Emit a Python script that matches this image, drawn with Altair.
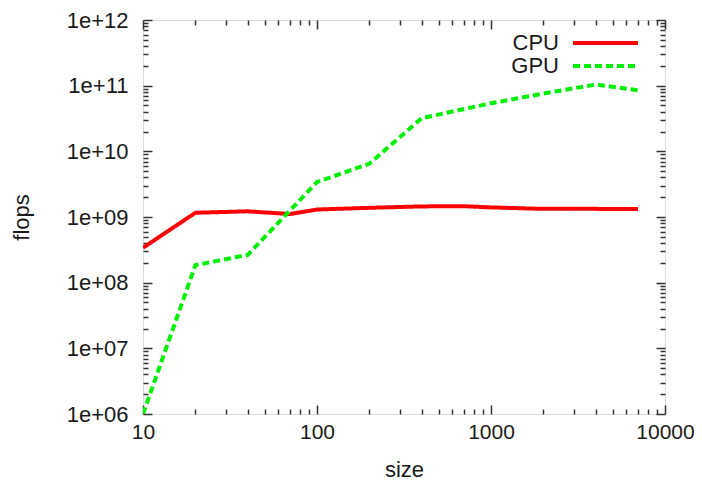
import altair as alt
import pandas as pd

# ---- data ----
cpu_size = [10, 20, 40, 70, 100, 200, 400, 700, 1000, 2000, 4000, 7000]
cpu_flops = [3.4e8, 1.16e9, 1.22e9, 1.11e9, 1.3e9, 1.38e9, 1.45e9, 1.46e9, 1.4e9, 1.33e9, 1.33e9, 1.32e9]
gpu_size = [10, 20, 40, 100, 200, 400, 1000, 2000, 4000, 7000]
gpu_flops = [1.0e6, 1.85e8, 2.65e8, 3.4e9, 6.5e9, 3.2e10, 5.4e10, 7.6e10, 1.04e11, 8.5e10]

series_names = ["CPU", "GPU"]
series_colors = ["#ff0000", "#00ee00"]
series_dash = [[1, 0], [7, 4]]

x_major = [10, 100, 1000, 10000]
x_minor = [m * d for d in [10, 100, 1000] for m in range(2, 10)]
y_major = [1e6, 1e7, 1e8, 1e9, 1e10, 1e11, 1e12]
y_minor = [m * d for d in [1e6, 1e7, 1e8, 1e9, 1e10, 1e11] for m in range(2, 10)]
y_labels = ["1e+06", "1e+07", "1e+08", "1e+09", "1e+10", "1e+11", "1e+12"]

rows = [{"series": "CPU", "size": s, "flops": f} for s, f in zip(cpu_size, cpu_flops)]
rows += [{"series": "GPU", "size": s, "flops": f} for s, f in zip(gpu_size, gpu_flops)]
df = pd.DataFrame(rows)

FONT = "Liberation Sans"
TXT = "#1a1a1a"
AX = "#333333"
FS = 22
MAJ = 9
MIN = 5

xs = alt.Scale(type="log", domain=[10, 10000], nice=False)
ys = alt.Scale(type="log", domain=[1e6, 1e12], nice=False)

y_label_expr = "[" + ",".join("'%s'" % l for l in y_labels) + "][indexof([" + \
    ",".join(repr(float(v)) for v in y_major) + "], datum.value)]"


def ax(orient, values, size, labels=False, title=None, **kw):
    return alt.Axis(
        orient=orient, values=values, offset=-size, tickSize=size,
        domain=False, grid=False, labels=labels, title=title,
        tickColor=AX, tickWidth=1.5, **kw
    )


x_bottom = ax("bottom", x_major, MAJ, labels=True, title="size",
              format="d", labelFont=FONT, labelFontSize=21, labelColor=TXT,
              labelPadding=7, titleFont=FONT, titleFontSize=FS,
              titleFontWeight="normal", titleColor=TXT, titlePadding=17,
              labelFlush=False, labelOverlap=False)
y_left = ax("left", y_major, MAJ, labels=True, title="flops",
            labelExpr=y_label_expr, labelFont=FONT, labelFontSize=FS,
            labelColor=TXT, labelPadding=15, titleFont=FONT, titleFontSize=FS,
            titleFontWeight="normal", titleColor=TXT, titlePadding=33,
            labelFlush=False, labelOverlap=False)

leg = alt.Legend(
    title=None, orient="none", legendX=429, legendY=12,
    symbolType="M-1.25,0H6.875", symbolSize=256, symbolStrokeWidth=4,
    labelFont=FONT, labelFontSize=FS, labelColor=TXT,
    labelAlign="right", labelOffset=alt.ExprRef(expr="-35"),
    rowPadding=1, padding=0,
)

lines = alt.Chart(df).mark_line(strokeWidth=4, strokeCap="butt", clip=True).encode(
    x=alt.X("size:Q", scale=xs, axis=x_bottom),
    y=alt.Y("flops:Q", scale=ys, axis=y_left),
    color=alt.Color("series:N", scale=alt.Scale(domain=series_names, range=series_colors), legend=leg),
    strokeDash=alt.StrokeDash("series:N", scale=alt.Scale(domain=series_names, range=series_dash), legend=leg),
    order="size:Q",
)


def ghost(xo, xv, xsz, yo, yv, ysz):
    return alt.Chart(df).mark_point(opacity=0).encode(
        x=alt.X("size:Q", scale=xs, axis=ax(xo, xv, xsz)),
        y=alt.Y("flops:Q", scale=ys, axis=ax(yo, yv, ysz)),
    )


chart = alt.layer(
    lines,
    ghost("top", x_major, MAJ, "right", y_major, MAJ),
    ghost("bottom", x_minor, MIN, "left", y_minor, MIN),
    ghost("top", x_minor, MIN, "right", y_minor, MIN),
).resolve_axis(x="independent", y="independent").properties(
    width=522, height=394,
    autosize=alt.AutoSizeParams(type="none"),
    padding={"left": 135, "top": 12, "right": 29, "bottom": 67},
).configure_view(stroke=AX, strokeWidth=1.5).configure(background="white")

chart.save("out.html", embed_options={"renderer": "svg", "actions": False})
